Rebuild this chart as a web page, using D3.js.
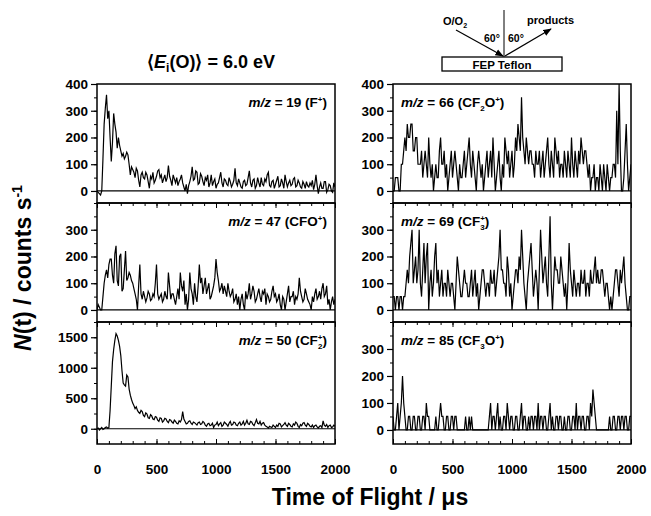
<!DOCTYPE html>
<html>
<head>
<meta charset="utf-8">
<script src="https://cdn.jsdelivr.net/npm/d3@7"></script>
<style>
body { margin: 0; background: #fff; }
svg text { font-family: "Liberation Sans", Arial, sans-serif; font-weight: bold; fill: #000; }
</style>
</head>
<body>
<div id="main"></div>
<script>
// time bins, 10 us apart, 0..2000 us
var binWidth = 10;

var counts19 = [0,-5,-10,-15,0,120,250,310,360,270,300,200,110,180,290,250,220,160,200,170,
  150,130,140,120,130,145,135,100,60,90,80,70,50,85,75,40,15,60,70,50,
  45,70,60,35,10,55,45,70,30,40,55,75,80,50,60,30,45,60,35,50,
  95,55,40,20,60,45,30,50,20,35,45,60,30,15,0,25,-10,20,35,55,
  90,40,45,75,70,25,30,65,55,35,20,50,40,60,15,30,60,20,35,45,
  10,25,30,50,70,30,15,45,40,25,20,50,35,15,25,40,85,30,20,45,
  30,15,10,35,40,20,25,50,75,30,15,40,45,10,20,50,30,15,50,25,
  20,45,35,60,70,20,15,35,40,10,25,40,55,15,20,45,30,10,60,35,
  15,30,40,20,25,45,50,15,20,40,30,15,10,35,25,10,35,20,15,30,
  20,40,5,25,60,20,-10,15,30,10,10,35,35,-5,5,25,20,0,-5,30,
  15];

var counts47 = [0,20,10,0,0,50,100,130,150,120,170,190,190,130,100,210,240,110,90,200,
  210,70,80,150,220,110,120,140,130,110,100,80,60,40,0,90,170,60,40,70,
  50,30,45,70,60,35,40,60,50,100,170,60,40,50,60,30,40,70,50,40,
  140,90,40,60,60,40,20,50,80,40,140,90,70,110,20,60,0,40,140,80,
  60,20,100,50,30,90,170,100,120,60,90,120,60,80,100,40,50,70,90,120,
  190,140,110,70,80,100,60,90,70,50,100,70,50,60,80,30,40,60,20,50,
  0,40,60,20,0,70,40,60,100,40,60,90,70,30,40,60,80,50,30,70,
  60,80,20,60,50,30,40,70,90,50,60,30,40,60,20,0,50,40,0,30,
  60,90,30,50,50,70,20,50,40,60,120,70,50,30,40,80,60,40,30,20,
  0,50,30,60,80,40,50,70,40,80,100,50,60,90,20,40,0,30,50,20,
  40];

var counts50 = [0,10,-20,0,20,-10,0,20,30,10,20,300,700,1100,1300,1450,1560,1520,1450,1350,
  1200,950,750,720,700,880,850,650,550,480,420,380,330,360,300,270,250,300,280,220,
  200,260,240,180,170,230,210,160,150,200,190,140,120,180,170,110,130,170,160,120,
  100,150,140,110,90,140,120,90,80,130,110,150,280,160,120,80,90,120,130,90,
  70,110,100,80,60,100,110,70,80,120,100,60,40,80,90,50,60,90,20,60,
  70,110,50,80,100,40,60,110,90,70,40,90,120,60,70,110,100,60,50,90,
  110,60,80,120,60,90,140,80,70,120,110,70,50,100,150,90,80,120,60,90,
  100,60,40,30,10,40,30,20,60,40,20,60,40,90,80,30,50,70,100,60,
  40,90,70,40,30,80,60,110,90,40,20,70,50,90,100,60,40,90,70,40,
  30,60,20,50,60,30,10,40,50,20,130,60,40,70,20,50,60,20,30,60,
  40];

var counts66 = [0,0,50,50,50,0,0,100,100,150,200,150,250,200,200,250,250,150,150,200,
  200,100,100,100,150,50,100,150,100,50,200,100,50,100,0,50,100,50,50,150,
  200,100,100,150,50,100,0,50,100,150,50,100,150,100,50,0,100,50,50,100,
  150,50,100,150,200,100,50,150,100,50,0,100,150,100,50,100,0,50,100,150,
  50,100,150,50,200,100,0,50,100,150,50,0,100,50,200,150,100,150,50,100,
  150,50,100,200,150,250,200,150,350,200,150,100,200,150,100,150,150,100,100,50,
  150,100,100,150,50,100,150,50,100,150,200,100,50,150,100,50,200,150,100,150,
  50,100,100,50,150,100,50,150,100,50,200,100,50,150,100,50,150,100,200,150,
  100,150,150,100,50,100,0,50,50,100,0,50,50,0,100,50,0,100,50,0,
  100,50,0,50,50,100,100,50,300,100,400,150,0,0,50,150,250,100,0,50,
  100];

var counts69 = [50,50,0,50,50,0,50,50,0,50,50,100,150,100,200,250,300,100,150,200,
  100,150,300,100,50,150,250,100,200,250,0,100,150,50,100,200,250,100,150,50,
  100,150,50,100,100,50,150,100,50,100,100,50,0,100,200,150,100,50,50,100,
  150,100,100,50,50,100,150,50,100,150,50,100,0,50,100,150,150,100,50,100,
  100,50,150,100,100,150,50,100,150,200,300,150,150,100,100,50,200,150,50,100,
  0,50,100,150,150,100,200,150,300,200,100,50,0,100,150,200,250,150,50,100,
  150,100,0,150,300,200,100,150,200,100,50,200,350,100,0,100,200,150,150,100,
  100,200,150,100,50,100,0,100,250,150,100,50,150,100,50,100,100,50,150,100,
  100,150,50,100,100,50,150,100,100,150,200,100,150,100,100,150,150,100,50,100,
  100,50,0,50,0,50,100,150,150,100,50,150,100,150,200,100,50,0,0,50,
  50];

var counts85 = [50,0,0,50,100,0,50,100,200,100,50,0,0,50,50,0,0,50,50,0,
  0,50,50,0,0,50,50,0,100,50,50,0,0,0,0,0,50,0,0,50,
  100,50,50,0,0,50,50,0,0,50,50,0,50,50,0,0,0,0,0,0,
  0,50,0,0,50,0,50,0,0,0,0,0,0,0,0,0,0,0,0,0,
  0,50,100,0,50,50,0,50,100,0,50,0,0,50,50,0,100,50,0,50,
  50,0,0,50,50,0,0,50,100,0,50,50,0,0,50,0,50,50,0,50,
  50,0,100,0,50,50,0,50,50,0,0,50,100,0,50,0,0,50,50,0,
  50,50,0,0,50,0,0,50,50,0,0,50,50,0,100,0,50,50,0,50,
  50,0,0,50,50,0,100,50,150,100,50,0,0,0,0,0,0,0,0,0,
  0,0,50,0,0,50,50,0,0,50,50,0,50,50,0,50,50,0,0,50,
  50];

var massNumbers = [19, 47, 50, 66, 69, 85];
var ionFormulas = [
  [["F", ""], ["+", "sup"]],
  [["CFO", ""], ["+", "sup"]],
  [["CF", ""], ["2", "sub"], ["+", "supx"]],
  [["CF", ""], ["2", "sub"], ["O", "back"], ["+", "sup"]],
  [["CF", ""], ["3", "sub"], ["+", "supx"]],
  [["CF", ""], ["3", "sub"], ["O", "back"], ["+", "sup"]]
];

var xTickLabels = [0, 500, 1000, 1500, 2000];
var yTicksTop = [0, 100, 200, 300, 400];
var yTicksMid = [0, 100, 200, 300];
var yTicksBig = [0, 500, 1000, 1500];

var outerWidth = 651;
var outerHeight = 516;
var colX = [97, 393];
var rowY = [84, 203, 322];
var rowH = [119, 119, 122];
var panelW = 238;

var panels = [
  {values: counts19, col: 0, row: 0, domain: [-45, 400], ticks: yTicksTop, minor: 50},
  {values: counts47, col: 0, row: 1, domain: [-45, 400], ticks: yTicksMid, minor: 50},
  {values: counts50, col: 0, row: 2, domain: [-250, 1750], ticks: yTicksBig, minor: 250},
  {values: counts66, col: 1, row: 0, domain: [-45, 400], ticks: yTicksTop, minor: 50},
  {values: counts69, col: 1, row: 1, domain: [-45, 400], ticks: yTicksMid, minor: 50},
  {values: counts85, col: 1, row: 2, domain: [-52, 400], ticks: yTicksMid, minor: 50}
];

var svg = d3.select("#main")
    .append("svg")
    .attr("width", outerWidth)
    .attr("height", outerHeight);

var xScale = d3.scaleLinear().domain([0, 2000]).range([0, panelW]);
var xMinor = d3.range(0, 2001, 100);

panels.forEach(function(p, i) {
    var h = rowH[p.row];
    var yScale = d3.scaleLinear().domain(p.domain).range([h, 0]);

    var g = svg.append("g")
        .attr("transform", "translate(" + colX[p.col] + "," + rowY[p.row] + ")");

    g.append("clipPath")
        .attr("id", "clip" + i)
        .append("rect")
        .attr("width", panelW)
        .attr("height", h);

    // y axis: minor then major ticks
    var minorVals = d3.range(0, p.domain[1] + 1, p.minor);
    g.append("g")
        .call(d3.axisLeft(yScale).tickValues(minorVals).tickSize(3).tickFormat(""))
        .call(a => a.select(".domain").remove());
    var yAxisG = g.append("g")
        .call(d3.axisLeft(yScale).tickValues(p.ticks).tickSize(6).tickPadding(3).tickFormat(d3.format("d")))
        .call(a => a.select(".domain").remove());
    yAxisG.selectAll("text").style("font-size", "13.5px");
    yAxisG.selectAll("line").attr("stroke-width", 1.2);

    // x ticks along bottom edge
    if (p.row < 2) {
        g.append("g")
            .attr("transform", "translate(0," + h + ")")
            .call(d3.axisBottom(xScale).tickValues(xMinor).tickSize(3).tickFormat(""))
            .call(a => a.select(".domain").remove());
        g.append("g")
            .attr("transform", "translate(0," + h + ")")
            .call(d3.axisBottom(xScale).tickValues(xTickLabels).tickSize(5).tickFormat(""))
            .call(a => a.select(".domain").remove());
    } else {
        g.append("g")
            .attr("transform", "translate(0," + h + ")")
            .call(d3.axisBottom(xScale).tickValues(xMinor).tickSizeInner(-3).tickSizeOuter(0).tickFormat(""))
            .call(a => a.select(".domain").remove());
        var xAxisG = g.append("g")
            .attr("transform", "translate(0," + h + ")")
            .call(d3.axisBottom(xScale).tickValues(xTickLabels).tickSizeInner(-5).tickSizeOuter(0)
                .tickPadding(20).tickFormat(d3.format("d")))
            .call(a => a.select(".domain").remove());
        xAxisG.selectAll("text").style("font-size", "13.5px");
    }

    // zero baseline
    g.append("line")
        .attr("x1", 0).attr("x2", panelW)
        .attr("y1", yScale(0)).attr("y2", yScale(0))
        .attr("stroke", "black")
        .attr("stroke-width", 1.2);

    var line = d3.line()
        .x((d, j) => xScale(j * binWidth))
        .y(d => yScale(d));

    g.append("path")
        .datum(p.values)
        .attr("clip-path", "url(#clip" + i + ")")
        .attr("d", line)
        .attr("fill", "none")
        .attr("stroke", "black")
        .attr("stroke-width", 1.2);

    g.append("rect")
        .attr("width", panelW)
        .attr("height", h)
        .attr("fill", "none")
        .attr("stroke", "black")
        .attr("stroke-width", 1.5);

    // panel label
    var lab = g.append("text")
        .attr("y", 23)
        .style("font-size", "13.5px");
    if (p.col == 0) {
        lab.attr("x", panelW - 8).attr("text-anchor", "end");
    } else {
        lab.attr("x", 8).attr("text-anchor", "start");
    }
    lab.append("tspan").style("font-style", "italic").text("m/z");
    lab.append("tspan").text(" = " + massNumbers[i] + " (");
    var shift = 0;
    ionFormulas[i].forEach(function(part) {
        var t = lab.append("tspan").text(part[0]);
        if (part[1] == "sup") {
            t.attr("dy", -5 - shift).style("font-size", "8px");
            shift = -5;
        } else if (part[1] == "sub") {
            t.attr("dy", 4 - shift).style("font-size", "8px");
            shift = 4;
        } else if (part[1] == "supx") {
            t.attr("dx", -4.5).attr("dy", -9).style("font-size", "8px");
            shift = -5;
        } else if (part[1] == "back") {
            t.attr("dy", -shift);
            shift = 0;
        }
    });
    lab.append("tspan").attr("dy", -shift).text(")");
});

// axis titles
svg.append("text")
    .attr("x", 370)
    .attr("y", 505)
    .attr("text-anchor", "middle")
    .style("font-size", "23px")
    .text("Time of Flight / \u03bcs");

var yTitle = svg.append("text")
    .attr("transform", "translate(31,268) rotate(-90)")
    .attr("text-anchor", "middle")
    .style("font-size", "23px");
yTitle.append("tspan").style("font-style", "italic").text("N");
yTitle.append("tspan").text("(t) / counts s");
yTitle.append("tspan").attr("dy", -9).style("font-size", "14px").text("-1");

// energy title
var title = svg.append("text")
    .attr("x", 211)
    .attr("y", 68)
    .attr("text-anchor", "middle")
    .style("font-size", "18px");
title.append("tspan").text("\u27e8");
title.append("tspan").style("font-style", "italic").text("E");
title.append("tspan").attr("dy", 4).style("font-size", "12px").text("i");
title.append("tspan").attr("dy", -4).text("(O)\u27e9 = 6.0 eV");

// scattering geometry sketch
var geo = svg.append("g");
svg.append("defs").append("marker")
    .attr("id", "arrow")
    .attr("viewBox", "0 0 10 10")
    .attr("refX", 9).attr("refY", 5)
    .attr("markerWidth", 7).attr("markerHeight", 7)
    .attr("orient", "auto")
    .append("path")
    .attr("d", "M0,1 L10,5 L0,9 Z")
    .attr("fill", "black");

geo.append("rect")
    .attr("x", 442).attr("y", 57)
    .attr("width", 120).attr("height", 14)
    .attr("fill", "none")
    .attr("stroke", "black")
    .attr("stroke-width", 1.3);
geo.append("text")
    .attr("x", 502).attr("y", 68.5)
    .attr("text-anchor", "middle")
    .style("font-size", "11.5px")
    .text("FEP Teflon");
geo.append("line")
    .attr("x1", 504).attr("y1", 10).attr("x2", 504).attr("y2", 57)
    .attr("stroke", "black").attr("stroke-width", 1);
geo.append("line")
    .attr("x1", 456).attr("y1", 30).attr("x2", 503).attr("y2", 56)
    .attr("stroke", "black").attr("stroke-width", 1.2)
    .attr("marker-end", "url(#arrow)");
geo.append("line")
    .attr("x1", 505).attr("y1", 56).attr("x2", 551).attr("y2", 29)
    .attr("stroke", "black").attr("stroke-width", 1.2)
    .attr("marker-end", "url(#arrow)");
var src = geo.append("text").attr("x", 443).attr("y", 25).style("font-size", "11px");
src.append("tspan").text("O/O");
src.append("tspan").attr("dy", 3).style("font-size", "7px").text("2");
geo.append("text").attr("x", 527).attr("y", 24).style("font-size", "11px").text("products");
geo.append("text").attr("x", 484).attr("y", 42).style("font-size", "10.5px").text("60\u00b0");
geo.append("text").attr("x", 508).attr("y", 42).style("font-size", "10.5px").text("60\u00b0");
</script>
</body>
</html>
